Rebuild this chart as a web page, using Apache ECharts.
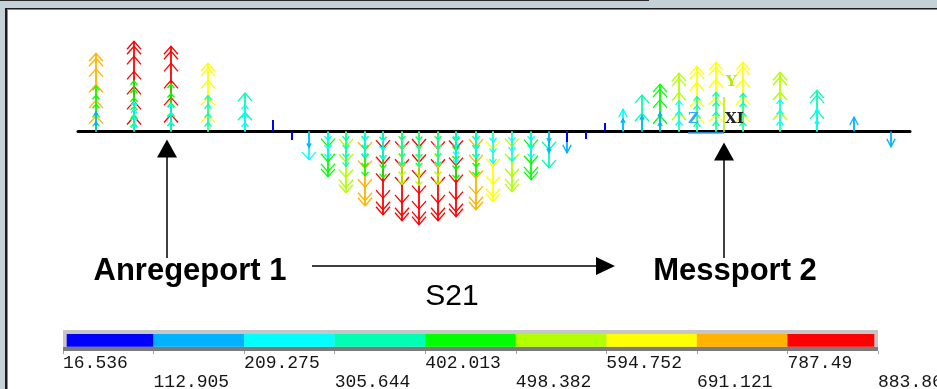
<!DOCTYPE html>
<html>
<head>
<meta charset="utf-8">
<script src="https://cdn.jsdelivr.net/npm/echarts@6/dist/echarts.min.js"></script>
<style>
html, body { margin: 0; padding: 0; background: #c4d2d7; }
#chart { width: 937px; height: 389px; }
</style>
</head>
<body>
<div id="chart"></div>
<script>
// node positions along the line and signed vector values (main + overlapping inner vectors)
var positions = [18, 56, 93, 130, 167, 195, 214, 231, 250, 268, 287, 305, 324, 341, 360, 378, 398, 415, 434, 453, 471, 489, 508, 527, 545, 564, 582, 601, 619, 638, 665, 702, 739, 776, 813];
var mainVec = [742, 855, 808, 647, 364, 109, -80, -269, -430, -581, -704, -789, -846, -883, -846, -808, -742, -666, -572, -458, -345, -203, -71, 80, 213, 345, 449, 553, 619, 657, 657, 562, 392, 137, -146];
var innerVec = [430, 480, 450, 340, 250, 0, 0, -150, -250, -330, -420, -440, -500, -510, -500, -450, -420, -300, -280, -250, -200, -100, 0, 0, 120, 150, 180, 290, 330, 370, 360, 300, 220, 0, 0];
var innerVec2 = [190, 280, 260, 0, 0, 0, 0, 0, 0, 0, -240, -260, -320, -330, -320, -300, -250, 0, 0, 0, 0, 0, 0, 0, 0, 0, 0, 0, 0, 0, 0, 0, 0, 0, 0];
// port positions along the line
var ports = [89, 646];

// contour legend
var legendTicks = ['16.536', '112.905', '209.275', '305.644', '402.013', '498.382', '594.752', '691.121', '787.49', '883.86'];
var bandColors = ['#0000ff', '#00b2ff', '#00ffff', '#00ffb2', '#00ff00', '#b2ff00', '#ffff00', '#ffb200', '#ff0000'];

var pieces = bandColors.map(function (c, i) {
  return { gte: parseFloat(legendTicks[i]), lte: parseFloat(legendTicks[i + 1]), color: c };
});

function toData(arr) {
  var out = [];
  arr.forEach(function (v, i) {
    if (v !== 0) out.push([positions[i], v, Math.abs(v)]);
  });
  return out;
}

// shaft plus a row of chevrons, spaced along the shaft from the tip
function vectorRenderer(step, hw, hh, shaftW, doubleTip) {
  return function (params, api) {
    var x = api.value(0);
    var v = api.value(1);
    var base = api.coord([x, 0]);
    var tip = api.coord([x, v]);
    var color = api.visual('color');
    var len = Math.abs(tip[1] - base[1]);
    var dir = tip[1] < base[1] ? 1 : -1;
    var children = [{
      type: 'line',
      shape: { x1: base[0], y1: base[1], x2: tip[0], y2: tip[1] },
      style: { stroke: color, lineWidth: len > 12 ? shaftW : 2 }
    }];
    if (len > 12) {
      var n = Math.max(1, Math.floor(len / step));
      var offs = [];
      for (var k = 0; k < n; k++) offs.push(k * len / n);
      if (doubleTip && len > 40) offs.push(5);
      var w = len < 25 ? hw * 0.6 : hw;
      offs.forEach(function (o) {
        var y = tip[1] + dir * o;
        children.push({
          type: 'polyline',
          shape: { points: [[tip[0] - w, y + dir * hh], [tip[0], y], [tip[0] + w, y + dir * hh]] },
          style: { stroke: color, lineWidth: 1.3, fill: null }
        });
      });
    }
    return { type: 'group', children: children };
  };
}

var chart = echarts.init(document.getElementById('chart'));

var option = {
  backgroundColor: '#c4d2d7',
  animation: false,
  grid: [
    { left: 78, width: 832, top: 26, height: 211, outerBoundsMode: 'none' },
    { left: 63, width: 815, top: 330, height: 21, outerBoundsMode: 'none' }
  ],
  xAxis: [
    {
      gridIndex: 0, type: 'value', min: 0, max: 832,
      axisLine: { onZero: true, lineStyle: { color: '#000', width: 3 } },
      axisTick: { show: false }, axisLabel: { show: false }, splitLine: { show: false }
    },
    {
      gridIndex: 1, type: 'value', min: 0, max: 9, interval: 1,
      axisLine: { show: true, lineStyle: { color: 'rgba(0,0,0,0)' } },
      axisTick: { show: true, length: 3, lineStyle: { color: '#a0a0a0' } },
      splitLine: { show: false },
      axisLabel: {
        show: true, margin: 3, align: 'left', hideOverlap: false,
        fontFamily: 'Liberation Mono', fontSize: 18, lineHeight: 18.5, color: '#151515',
        showMinLabel: true, showMaxLabel: true,
        formatter: function (v) {
          var i = Math.round(v);
          return i % 2 === 1 ? '\n' + legendTicks[i] : legendTicks[i];
        }
      }
    }
  ],
  yAxis: [
    {
      gridIndex: 0, type: 'value', min: -1000, max: 1000,
      axisLine: { show: false }, axisTick: { show: false }, axisLabel: { show: false }, splitLine: { show: false }
    },
    {
      gridIndex: 1, type: 'value', min: 0, max: 1, show: false
    }
  ],
  visualMap: {
    type: 'piecewise', show: false, dimension: 2, seriesIndex: [0, 1, 2],
    pieces: pieces
  },
  graphic: [
    { type: 'rect', z: -20, shape: { x: 0, y: 0, width: 649, height: 1 }, style: { fill: '#2a2a2a' } },
    { type: 'rect', z: -20, shape: { x: 5, y: 8, width: 932, height: 381 }, style: { fill: '#1c1c1c' } },
    { type: 'rect', z: -20, shape: { x: 7, y: 9, width: 930, height: 380 }, style: { fill: '#8a8a8a' } },
    { type: 'rect', z: -20, shape: { x: 8, y: 10, width: 929, height: 379 }, style: { fill: '#ffffff' } },
    { type: 'rect', z: -10, shape: { x: 63, y: 330, width: 815, height: 21 }, style: { fill: '#c6c6c6' } },
    { type: 'rect', z: -10, shape: { x: 63, y: 347, width: 815, height: 4 }, style: { fill: '#7b7b7b' } },
    // triad
    { type: 'line', z: 5, shape: { x1: 688, y1: 133, x2: 724, y2: 133 }, style: { stroke: '#33aaff', lineWidth: 1.5 } },
    { type: 'line', z: 5, shape: { x1: 724, y1: 97, x2: 724, y2: 132 }, style: { stroke: '#b2ee00', lineWidth: 1.5 } },
    { type: 'text', z: 5, x: 688, y: 112, style: { text: 'Z', fill: '#33aaff', font: 'bold 15px "DejaVu Serif"' } },
    { type: 'text', z: 5, x: 726, y: 75, style: { text: 'Y', fill: '#b2ee00', font: 'bold 15px "DejaVu Serif"' } },
    { type: 'text', z: 5, x: 725, y: 112, style: { text: 'XI', fill: '#222', font: 'bold 15px "DejaVu Serif"' } },
    // S21 arrow and labels
    { type: 'line', z: 5, shape: { x1: 312, y1: 266, x2: 598, y2: 266 }, style: { stroke: '#000', lineWidth: 1.5 } },
    { type: 'polygon', z: 5, shape: { points: [[596, 257], [615, 266], [596, 275]] }, style: { fill: '#000' } },
    { type: 'text', z: 5, x: 190, y: 271, style: { text: 'Anregeport 1', fill: '#000', font: 'bold 31px "Liberation Sans"', textAlign: 'center', textVerticalAlign: 'middle' } },
    { type: 'text', z: 5, x: 735, y: 271, style: { text: 'Messport 2', fill: '#000', font: 'bold 31px "Liberation Sans"', textAlign: 'center', textVerticalAlign: 'middle' } },
    { type: 'text', z: 5, x: 452, y: 297, style: { text: 'S21', fill: '#000', font: '30px "Liberation Sans"', textAlign: 'center', textVerticalAlign: 'middle' } }
  ],
  series: [
    {
      name: 'main', type: 'custom', xAxisIndex: 0, yAxisIndex: 0, clip: false, z: 3,
      renderItem: vectorRenderer(15, 7, 8, 1.8, true),
      data: toData(mainVec)
    },
    {
      name: 'inner', type: 'custom', xAxisIndex: 0, yAxisIndex: 0, clip: false, z: 4,
      renderItem: vectorRenderer(8, 3.5, 4, 1.5, false),
      data: toData(innerVec)
    },
    {
      name: 'inner2', type: 'custom', xAxisIndex: 0, yAxisIndex: 0, clip: false, z: 4,
      renderItem: vectorRenderer(7, 3, 3.5, 1.4, false),
      data: toData(innerVec2)
    },
    {
      name: 'legend', type: 'custom', xAxisIndex: 1, yAxisIndex: 1, z: 3,
      renderItem: function (params, api) {
        var i = api.value(0);
        var p0 = api.coord([i, 1]);
        var p1 = api.coord([i + 1, 0]);
        var x0 = p0[0] + (i === 0 ? 3.7 : 0);
        var x1 = p1[0] - (i === bandColors.length - 1 ? 3.7 : 0);
        return {
          type: 'rect',
          shape: { x: x0, y: p0[1] + 4, width: x1 - x0, height: 12.7 },
          style: { fill: bandColors[i] }
        };
      },
      data: bandColors.map(function (c, i) { return [i]; })
    },
    {
      name: 'ports', type: 'custom', xAxisIndex: 0, yAxisIndex: 0, clip: false, z: 5,
      renderItem: function (params, api) {
        var base = api.coord([api.value(0), 0]);
        var tipY = base[1] + 8 + params.dataIndex * 3;
        return {
          type: 'group',
          children: [
            { type: 'line', shape: { x1: base[0], y1: tipY + 16, x2: base[0], y2: 258 }, style: { stroke: '#000', lineWidth: 1.5 } },
            { type: 'polygon', shape: { points: [[base[0], tipY], [base[0] + 10, tipY + 18], [base[0] - 10, tipY + 18]] }, style: { fill: '#000' } }
          ]
        };
      },
      data: ports.map(function (p) { return [p]; })
    }
  ]
};

chart.setOption(option);
window.addEventListener('resize', function () { chart.resize(); });
</script>
</body>
</html>
